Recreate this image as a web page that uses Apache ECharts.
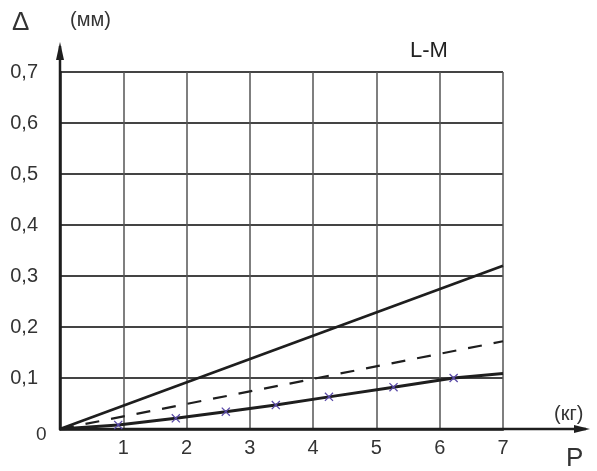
<!DOCTYPE html>
<html><head><meta charset="utf-8">
<script src="https://cdn.jsdelivr.net/npm/echarts@6/dist/echarts.min.js"></script>
<style>html,body{margin:0;padding:0;background:#fff}#c{width:597px;height:471px}</style>
</head><body><div id="c"></div>
<script>
const xTicks = [0, 1, 2, 3, 4, 5, 6, 7];
const yTicks = [0, 0.1, 0.2, 0.3, 0.4, 0.5, 0.6, 0.7];
const upperX = [0, 7];
const upperY = [0, 0.32];
const dashedX = [0, 7];
const dashedY = [0, 0.172];
const lowerX = [0, 0.92, 1.83, 2.62, 3.41, 4.25, 5.27, 6.22, 7];
const lowerY = [0, 0.008, 0.021, 0.034, 0.047, 0.063, 0.082, 0.100, 0.109];
const lowerMarked = [false, true, true, true, true, true, true, true, false];

const font = 'Liberation Sans, Arial, sans-serif';
const ink = '#1e1e1e';
const xMark = 'path://M0,1L1,0L5,4L9,0L10,1L6,5L10,9L9,10L5,6L1,10L0,9L4,5Z';

const chart = echarts.init(document.getElementById('c'), null, {renderer: 'canvas'});
chart.setOption({
  animation: false,
  backgroundColor: '#fff',
  grid: {left: 60, right: 94, top: 72, bottom: 42, containLabel: false},
  xAxis: {
    type: 'value', min: xTicks[0], max: xTicks[xTicks.length - 1], interval: 1,
    axisLine: {show: true, lineStyle: {color: ink, width: 2.5}},
    axisTick: {show: false},
    splitLine: {show: true, lineStyle: {color: '#555', width: 1.5}},
    axisLabel: {color: '#333', fontSize: 20, fontFamily: font, margin: 9,
      formatter: v => (v === 0 ? '' : String(v))}
  },
  yAxis: {
    type: 'value', min: yTicks[0], max: yTicks[yTicks.length - 1], interval: 0.1,
    axisLine: {show: true, lineStyle: {color: ink, width: 2.5}},
    axisTick: {show: false},
    splitLine: {show: true, lineStyle: {color: '#444', width: 2}},
    axisLabel: {color: '#333', fontSize: 20, fontFamily: font, margin: 22,
      formatter: v => (v === 0 ? '' : v.toFixed(1).replace('.', ',')),
      verticalAlign: 'middle'}
  },
  series: [
    {type: 'line', data: upperX.map((x, i) => [x, upperY[i]]), symbol: 'none',
     lineStyle: {color: ink, width: 2.8}, z: 5},
    {type: 'line', data: dashedX.map((x, i) => [x, dashedY[i]]), symbol: 'none',
     lineStyle: {color: ink, width: 2.2, type: [14, 12]}, z: 5},
    {type: 'line', data: lowerX.map((x, i) => ({value: [x, lowerY[i]],
       symbol: lowerMarked[i] ? xMark : 'none'})),
     symbolSize: 9, itemStyle: {color: '#5a4aa8'},
     lineStyle: {color: ink, width: 3}, z: 6}
  ]
});

function drawExtras() {
  const o = chart.convertToPixel({xAxisIndex: 0, yAxisIndex: 0}, [0, 0]);
  const xEnd = 590, yTop = 42;
  chart.setOption({graphic: [
    {type: 'line', shape: {x1: o[0], y1: o[1], x2: xEnd - 4, y2: o[1]}, style: {stroke: ink, lineWidth: 2.5}},
    {type: 'polygon', shape: {points: [[xEnd, o[1]], [xEnd - 16, o[1] - 4], [xEnd - 16, o[1] + 4]]}, style: {fill: ink}},
    {type: 'line', shape: {x1: o[0], y1: o[1], x2: o[0], y2: yTop + 4}, style: {stroke: ink, lineWidth: 2.5}},
    {type: 'polygon', shape: {points: [[o[0], yTop], [o[0] - 4, yTop + 18], [o[0] + 4, yTop + 18]]}, style: {fill: ink}},
    {type: 'text', x: o[0] - 24, y: o[1] - 4, style: {text: '0', font: '19px ' + font, fill: '#333'}},
    {type: 'text', x: 12, y: 10, style: {text: 'Δ', font: '26px ' + font, fill: '#333'}},
    {type: 'text', x: 70, y: 10, style: {text: '(мм)', font: '20px ' + font, fill: '#333'}},
    {type: 'text', x: 410, y: 40, style: {text: 'L-M', font: '22px ' + font, fill: '#222'}},
    {type: 'text', x: 554, y: 404, style: {text: '(кг)', font: '20px ' + font, fill: '#333'}},
    {type: 'text', x: 566, y: 446, style: {text: 'P', font: '26px ' + font, fill: '#333'}}
  ]});
}
drawExtras();
</script></body></html>
